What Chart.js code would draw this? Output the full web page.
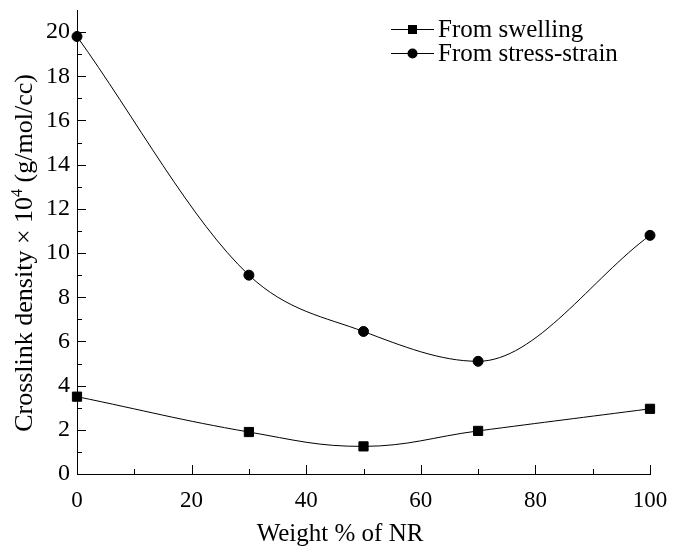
<!DOCTYPE html>
<html><head><meta charset="utf-8">
<script src="https://cdn.jsdelivr.net/npm/chart.js@4"></script>
<style>html,body{margin:0;padding:0;background:#fff}#wrap{width:673px;height:553px}</style>
</head><body><div id="wrap"><canvas id="c"></canvas></div>
<script>
const weights = [0, 30, 50, 70, 100];
const swelling = [3.5, 1.9, 1.25, 1.95, 2.95];
const stressStrain = [19.8, 9.0, 6.45, 5.1, 10.8];
const seriesNames = ['From swelling', 'From stress-strain'];
const xTicks = [0, 20, 40, 60, 80, 100];
const yTicks = [0, 2, 4, 6, 8, 10, 12, 14, 16, 18, 20];
const xTitle = 'Weight % of NR';
const yTitleParts = ['Crosslink density × 10', '4', ' (g/mol/cc)'];

const FONT = '"Liberation Serif", "DejaVu Serif", serif';
const FS = 25;

const decorPlugin = {
  id: 'decor',
  afterDraw(chart) {
    const ctx = chart.ctx, x = chart.scales.x, y = chart.scales.y;
    const a = chart.chartArea;
    ctx.save();
    ctx.strokeStyle = '#000'; ctx.lineWidth = 1;
    for (let v = 0; v <= 100; v += 10) {
      const px = Math.round(x.getPixelForValue(v)) + 0.5;
      const len = (v % 20 === 0) ? 9 : 5;
      ctx.beginPath(); ctx.moveTo(px, a.bottom); ctx.lineTo(px, a.bottom - len); ctx.stroke();
    }
    for (let v = 0; v <= 20; v += 1) {
      const py = Math.round(y.getPixelForValue(v)) + 0.5;
      const len = (v % 2 === 0) ? 9 : 5;
      ctx.beginPath(); ctx.moveTo(a.left, py); ctx.lineTo(a.left + len, py); ctx.stroke();
    }
    ctx.fillStyle = '#000';
    // legend
    ctx.font = FS + 'px ' + FONT;
    ctx.textBaseline = 'middle'; ctx.textAlign = 'left';
    const rows = [{y: 29, s: 'rect'}, {y: 53, s: 'circle'}];
    rows.forEach((r, i) => {
      ctx.beginPath(); ctx.moveTo(391, r.y + 0.5); ctx.lineTo(434, r.y + 0.5); ctx.stroke();
      if (r.s === 'rect') { ctx.fillRect(408, r.y - 4, 9, 9); }
      else { ctx.beginPath(); ctx.arc(412.5, r.y + 0.5, 5, 0, Math.PI * 2); ctx.fill(); }
      ctx.fillText(seriesNames[i], 438, r.y + 1);
    });
    // x title
    ctx.font = '25px ' + FONT;
    ctx.textBaseline = 'alphabetic'; ctx.textAlign = 'center';
    ctx.fillText(xTitle, 340, 541);
    // y title (rotated, with superscript)
    const big = '26px ' + FONT, small = '16px ' + FONT;
    ctx.font = big; const w0 = ctx.measureText(yTitleParts[0]).width, w2 = ctx.measureText(yTitleParts[2]).width;
    ctx.font = small; const w1 = ctx.measureText(yTitleParts[1]).width;
    const total = w0 + w1 + w2;
    ctx.translate(32, 253); ctx.rotate(-Math.PI / 2);
    ctx.textAlign = 'left';
    let cx = -total / 2;
    ctx.font = big; ctx.fillText(yTitleParts[0], cx, 0); cx += w0;
    ctx.font = small; ctx.fillText(yTitleParts[1], cx, -10); cx += w1;
    ctx.font = big; ctx.fillText(yTitleParts[2], cx, 0);
    ctx.restore();
  }
};

new Chart(document.getElementById('c'), {
  type: 'line',
  data: {
    datasets: [
      { label: seriesNames[0], data: weights.map((w, i) => ({x: w, y: swelling[i]})),
        borderColor: '#000', backgroundColor: '#000', borderWidth: 1, pointStyle: 'rect',
        pointRadius: 6.5, tension: 0.4, clip: false },
      { label: seriesNames[1], data: weights.map((w, i) => ({x: w, y: stressStrain[i]})),
        borderColor: '#000', backgroundColor: '#000', borderWidth: 1, pointStyle: 'circle',
        pointRadius: 5, cubicInterpolationMode: 'monotone', clip: false }
    ]
  },
  options: {
    responsive: true, maintainAspectRatio: false, animation: false,
    layout: { padding: { left: 0, right: 23, top: 10, bottom: 0 } },
    plugins: { legend: { display: false }, tooltip: { enabled: false } },
    scales: {
      x: {
        type: 'linear', min: 0, max: 100,
        afterBuildTicks: s => { s.ticks = xTicks.map(v => ({value: v})); },
        afterFit: s => { s.height = 79; s.paddingRight = 0; },
        grid: { display: false, drawTicks: false },
        border: { display: true, color: '#000', width: 1 },
        ticks: { color: '#000', font: { family: FONT, size: 23 }, padding: 13, maxRotation: 0 },
        title: { display: false }
      },
      y: {
        type: 'linear', min: 0, max: 21,
        afterBuildTicks: s => { s.ticks = yTicks.map(v => ({value: v})); },
        afterFit: s => { s.width = 77; s.paddingTop = 0; s.paddingBottom = 0; },
        grid: { display: false, drawTicks: false },
        border: { display: true, color: '#000', width: 1 },
        ticks: { color: '#000', font: { family: FONT, size: 24 }, padding: 7 },
        title: { display: false }
      }
    }
  },
  plugins: [decorPlugin]
});
</script></body></html>
